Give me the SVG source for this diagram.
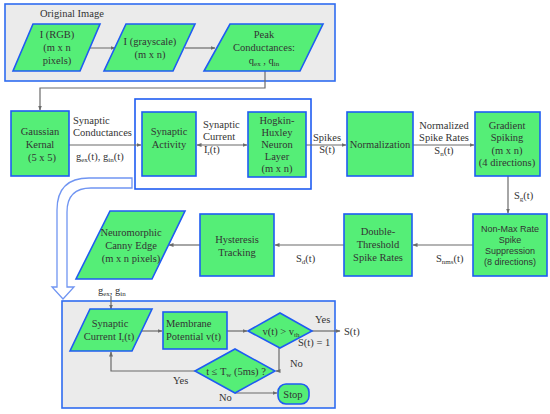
<svg xmlns="http://www.w3.org/2000/svg" width="550" height="414" viewBox="0 0 550 414">
<defs>
<marker id="ah" viewBox="0 0 10 10" refX="9" refY="5" markerWidth="5" markerHeight="5" orient="auto-start-reverse" markerUnits="userSpaceOnUse">
<path d="M0,1 L10,5 L0,9 Z" fill="#6b6b6b"/>
</marker>
<style>
.n{fill:#55ee77;stroke:#1f5cf2;stroke-width:1.6}
.g{fill:#ebebeb;stroke:#2f6cf0;stroke-width:1.6}
.c{fill:none;stroke:#6b6b6b;stroke-width:1.2}
.a{marker-end:url(#ah)}
.t text{font-size:10.5px;fill:#333}
.m{text-anchor:middle}
.t .s{font-family:'Liberation Sans',Arial,sans-serif;font-size:9px}
.sb{font-size:7px}
</style>
</defs>
<rect width="550" height="414" fill="#fff"/>
<g class="t" font-family="'Liberation Serif', 'Times New Roman', 'DejaVu Serif', serif">

<g id="original-image">
<rect class="g" x="5" y="4" width="330" height="77"/>
<text x="40" y="17">Original Image</text>
</g>
<g id="bottom-group">
<rect class="g" x="62" y="301" width="273" height="107"/>
</g>
<g id="outer-activity">
<rect x="135" y="99" width="176" height="90" fill="#fff" stroke="#1f5cf2" stroke-width="1.6"/>
</g>

<g id="connectors">
<path class="c a" d="M80,48 H115"/>
<path class="c a" d="M185,48 H215"/>
<path class="c a" d="M265,71 V88 H40 V110"/>
<path class="c a" d="M69,145 H141"/>
<path class="c a" d="M197,145 H247" marker-start="url(#ah)"/>
<path class="c a" d="M306,145 H346"/>
<path class="c a" d="M413,145 H474"/>
<path class="c a" d="M508,176 V213"/>
<path class="c a" d="M473,245 H413"/>
<path class="c a" d="M344,245 H275"/>
<path class="c a" d="M200,245 H169"/>
<path class="c a" d="M111,296 V309"/>
<path class="c a" d="M142,331 H162"/>
<path class="c a" d="M227,331 H247"/>
<path class="c a" d="M312,331 H340"/>
<path class="c a" d="M279,348 V371 H276"/>
<path class="c a" d="M195,371 H111 V352"/>
<path class="c a" d="M235,393 H277"/>
<path d="M132,178 H89 Q57,178 57,210 V287 H52 L63,299 L74,287 H67 V212 Q67,188 91,188 H132 Z" fill="#fff" stroke="#7095f2" stroke-width="1.3"/>
</g>

<g id="rgb">
<polygon class="n" points="33,24 100,24 80,71 13,71"/>
<text class="m" x="57" y="38">I (RGB)</text>
<text class="m" x="57" y="51">(m x n</text>
<text class="m" x="57" y="64">pixels)</text>
</g>
<g id="grayscale">
<polygon class="n" points="126,24 195,24 173,71 104,71"/>
<text class="m" x="150" y="45">I (grayscale)</text>
<text class="m" x="150" y="58">(m x n)</text>
</g>
<g id="peak">
<polygon class="n" points="230,24 323,24 300,71 204,71"/>
<text class="m" x="264" y="38">Peak</text>
<text class="m" x="264" y="51">Conductances:</text>
<text class="m" x="264" y="64">q<tspan class="sb" dy="2">ex</tspan><tspan dy="-2"> , q</tspan><tspan class="sb" dy="2">in</tspan></text>
</g>

<g id="gaussian">
<rect class="n" x="11" y="111" width="58" height="65"/>
<text class="m" x="40" y="135">Gaussian</text>
<text class="m" x="40" y="148">Kernal</text>
<text class="m" x="42" y="161">(5 x 5)</text>
</g>
<g id="syn-cond-label">
<text x="73" y="124">Synaptic</text>
<text x="73" y="136">Conductances</text>
<text x="76" y="160">g<tspan class="sb" dy="2">ex</tspan><tspan dy="-2">(t), g</tspan><tspan class="sb" dy="2">in</tspan><tspan dy="-2">(t)</tspan></text>
</g>
<g id="syn-activity">
<rect class="n" x="142" y="112" width="54" height="64"/>
<text class="m" x="169" y="135">Synaptic</text>
<text class="m" x="169" y="148">Activity</text>
</g>
<g id="syn-current-label">
<text x="203" y="128">Synaptic</text>
<text x="203" y="140">Current</text>
<text x="204" y="153">I<tspan class="sb" dy="2">r</tspan><tspan dy="-2">(t)</tspan></text>
</g>
<g id="hh">
<rect class="n" x="248" y="112" width="58" height="65"/>
<text class="m" x="277" y="124">Hogkin-</text>
<text class="m" x="277" y="136">Huxley</text>
<text class="m" x="277" y="148">Neuron</text>
<text class="m" x="277" y="160">Layer</text>
<text class="m" x="277" y="172">(m x n)</text>
</g>
<g id="spikes-label">
<text class="m" x="327" y="141">Spikes</text>
<text class="m" x="327" y="153">S(t)</text>
</g>
<g id="normalization">
<rect class="n" x="347" y="112" width="66" height="64"/>
<text class="m" x="380" y="148">Normalization</text>
</g>
<g id="norm-label">
<text class="m" x="444" y="129">Normalized</text>
<text class="m" x="444" y="141">Spike Rates</text>
<text class="m" x="444" y="154">S<tspan class="sb" dy="2">n</tspan><tspan dy="-2">(t)</tspan></text>
</g>
<g id="gradient">
<rect class="n" x="475" y="112" width="65" height="64"/>
<text class="m" x="507" y="129">Gradient</text>
<text class="m" x="507" y="141">Spiking</text>
<text class="m" x="507" y="154">(m x n)</text>
<text class="m" x="507" y="166">(4 directions)</text>
</g>
<g id="sg-label">
<text x="514" y="199">S<tspan class="sb" dy="2">g</tspan><tspan dy="-2">(t)</tspan></text>
</g>
<g id="nonmax">
<rect class="n" x="473" y="214" width="74" height="62"/>
<text class="m s" x="510" y="232">Non-Max Rate</text>
<text class="m s" x="510" y="243">Spike</text>
<text class="m s" x="510" y="254">Suppression</text>
<text class="m s" x="510" y="265">(8 directions)</text>
</g>
<g id="snms-label">
<text x="436" y="262">S<tspan class="sb" dy="2">nms</tspan><tspan dy="-2">(t)</tspan></text>
</g>
<g id="double">
<rect class="n" x="344" y="214" width="68" height="62"/>
<text class="m" x="378" y="235">Double-</text>
<text class="m" x="378" y="248">Threshold</text>
<text class="m" x="378" y="261">Spike Rates</text>
</g>
<g id="sd-label">
<text x="296" y="262">S<tspan class="sb" dy="2">d</tspan><tspan dy="-2">(t)</tspan></text>
</g>
<g id="hysteresis">
<rect class="n" x="200" y="214" width="74" height="62"/>
<text class="m" x="237" y="243">Hysteresis</text>
<text class="m" x="237" y="256">Tracking</text>
</g>
<g id="canny">
<polygon class="n" points="110,211 185,211 152,279 76,279"/>
<text class="m" x="131" y="236">Neuromorphic</text>
<text class="m" x="131" y="249">Canny Edge</text>
<text class="m" x="131" y="262">(m x n pixels)</text>
</g>

<g id="gexgin-label">
<text x="98" y="294">g<tspan class="sb" dy="2">ex</tspan><tspan dy="-2">, g</tspan><tspan class="sb" dy="2">in</tspan></text>
</g>
<g id="syn-current">
<polygon class="n" points="90,309 152,309 132,351 70,351"/>
<text class="m" x="110" y="327">Synaptic</text>
<text class="m" x="109" y="340">Current  I<tspan class="sb" dy="2">r</tspan><tspan dy="-2">(t)</tspan></text>
</g>
<g id="membrane">
<rect class="n" x="163" y="312" width="64" height="37"/>
<text x="166" y="327">Membrane</text>
<text x="166" y="340">Potential v(t)</text>
</g>
<g id="threshold">
<polygon class="n" points="248,331 280,313 312,331 280,348"/>
<text class="m" x="281" y="335">v(t) &gt; v<tspan class="sb" dy="2">th</tspan></text>
</g>
<g id="thr-labels">
<text x="315" y="323">Yes</text>
<text x="344" y="335">S(t)</text>
<text x="298" y="346">S(t) = 1</text>
<text x="290" y="367">No</text>
</g>
<g id="time-check">
<polygon class="n" points="195,371 235,349 275,371 235,393"/>
<text class="m" x="236" y="375">t ≤ T<tspan class="sb" dy="2">w</tspan><tspan dy="-2"> (5ms) ?</tspan></text>
</g>
<g id="tc-labels">
<text x="173" y="384">Yes</text>
<text x="219" y="401">No</text>
</g>
<g id="stop">
<rect class="n" x="278" y="384" width="31" height="20" rx="8"/>
<text class="m" x="293" y="398">Stop</text>
</g>
</g>
</svg>
